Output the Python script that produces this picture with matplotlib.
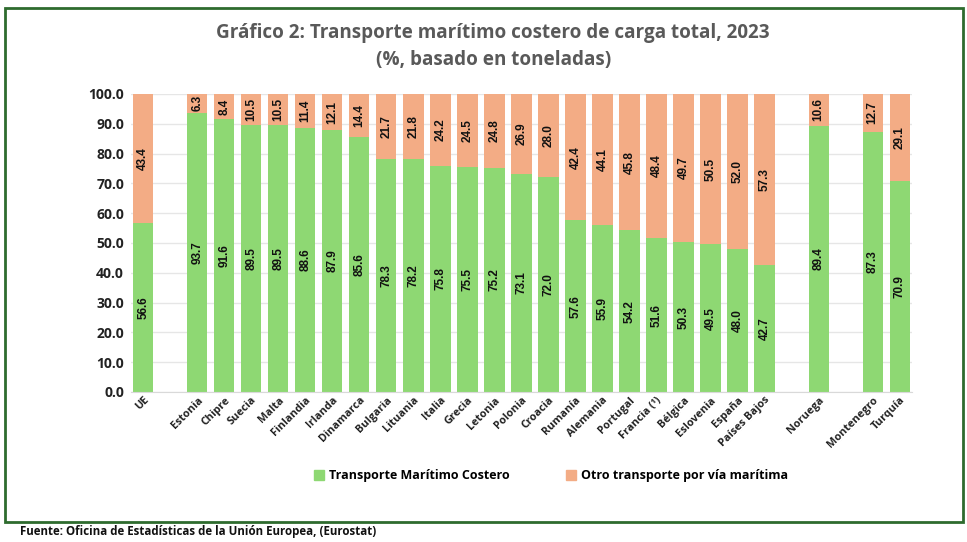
import matplotlib
matplotlib.use("Agg")
import matplotlib.pyplot as plt
from matplotlib.patches import Rectangle, Patch
import numpy as np

categories = ["UE", "", "Estonia", "Chipre", "Suecia", "Malta", "Finlandia", "Irlanda",
              "Dinamarca", "Bulgaria", "Lituania", "Italia", "Grecia", "Letonia", "Polonia",
              "Croacia", "Rumanía", "Alemania", "Portugal", "Francia (¹)", "Bélgica",
              "Eslovenia", "España", "Países Bajos", " ", "Noruega", "  ", "Montenegro", "Turquía"]
costero = [56.6, None, 93.7, 91.6, 89.5, 89.5, 88.6, 87.9, 85.6, 78.3, 78.2, 75.8, 75.5,
           75.2, 73.1, 72.0, 57.6, 55.9, 54.2, 51.6, 50.3, 49.5, 48.0, 42.7, None, 89.4,
           None, 87.3, 70.9]
otro = [43.4, None, 6.3, 8.4, 10.5, 10.5, 11.4, 12.1, 14.4, 21.7, 21.8, 24.2, 24.5, 24.8,
        26.9, 28.0, 42.4, 44.1, 45.8, 48.4, 49.7, 50.5, 52.0, 57.3, None, 10.6, None, 12.7, 29.1]
yticks = [0, 10, 20, 30, 40, 50, 60, 70, 80, 90, 100]

GREEN = "#8ED873"
ORANGE = "#F3AC85"
MAIN = ["Open Sans", "DejaVu Sans"]
LBL = ["Liberation Sans", "DejaVu Sans"]
plt.rcParams['font.family'] = MAIN

fig = plt.figure(figsize=(9.67, 5.42), dpi=100)
ax = fig.add_axes([0.1355, 0.2768, 0.8075, 0.5498])

# figure frame
fig.patches.append(Rectangle((5/967, 1-522/542), 958/967, 514/542, transform=fig.transFigure,
                             fill=False, edgecolor="#2E6B2E", linewidth=2))

x = np.arange(len(categories))
w = 0.75
for i, (c, o) in enumerate(zip(costero, otro)):
    if c is None:
        continue
    ax.bar(i, c, width=w, color=GREEN, zorder=2)
    ax.bar(i, o, bottom=c, width=w, color=ORANGE, zorder=2)
    ax.text(i, c/2, f"{c:.1f}", rotation=90, ha="center", va="center", family=LBL,
            fontsize=8.5, fontweight="bold", color="#111111", zorder=3)
    ax.text(i, c + o/2, f"{o:.1f}", rotation=90, ha="center", va="center", family=LBL,
            fontsize=8.5, fontweight="bold", color="#111111", zorder=3)

ax.set_xlim(-0.45, len(categories) - 0.55)
ax.set_ylim(0, 100)
ax.set_yticks(yticks)
ax.set_yticklabels([f"{v:.1f}" for v in yticks], fontsize=10, fontweight="bold", color="#222222")
ax.yaxis.grid(True, color="#E6E6E6", linewidth=1, zorder=0)
ax.set_axisbelow(True)
ax.tick_params(axis="y", length=0, pad=5)
ax.tick_params(axis="x", length=0, pad=2)
ax.set_xticks(x)
ax.set_xticklabels(categories, rotation=45, ha="right", rotation_mode="anchor",
                   fontsize=7.8, fontweight="bold", color="#222222")
for s in ["top", "right", "left"]:
    ax.spines[s].set_visible(False)
ax.spines["bottom"].set_color("#D9D9D9")

fig.text(0.51, 1-33/542, "Gráfico 2: Transporte marítimo costero de carga total, 2023",
         ha="center", va="center", fontsize=13.6, fontweight="bold", color="#595959")
fig.text(0.51, 1-60/542, "(%, basado en toneladas)",
         ha="center", va="center", fontsize=13.6, fontweight="bold", color="#595959")

handles = [Patch(color=GREEN, label="Transporte Marítimo Costero"),
           Patch(color=ORANGE, label="Otro transporte por vía marítima")]
fig.legend(handles=handles, loc="center", bbox_to_anchor=(551/967, 1-476/542), ncol=2,
           frameon=False, prop={"weight": "bold", "size": 9}, handlelength=0.8,
           handleheight=0.8, columnspacing=4.5, handletextpad=0.4)

fig.text(20/967, 1-531/542, "Fuente: Oficina de Estadísticas de la Unión Europea, (Eurostat)",
         ha="left", va="center", fontsize=8.3, fontweight="bold", color="#111111")

fig.savefig("out.png", dpi=100, facecolor="white")
